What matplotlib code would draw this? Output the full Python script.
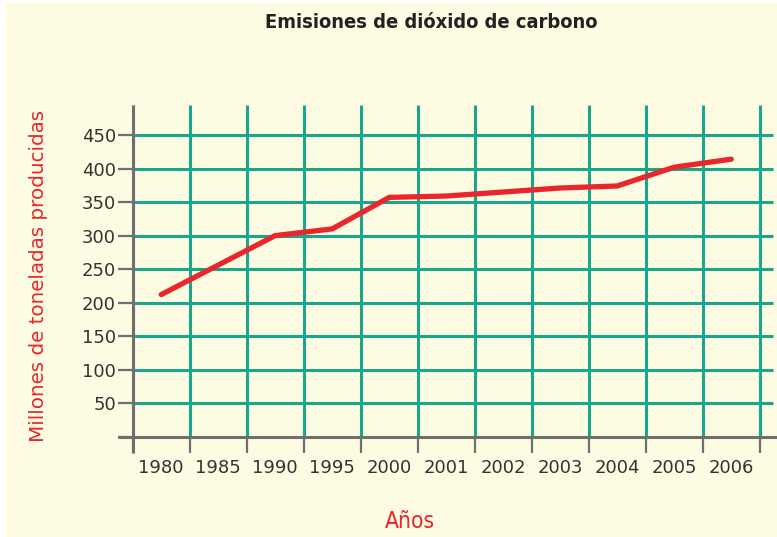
import matplotlib
matplotlib.use("Agg")
import matplotlib.pyplot as plt
import numpy as np
from matplotlib.patches import Rectangle
from matplotlib import font_manager as fm

# ---- data ----
years = ["1980", "1985", "1990", "1995", "2000", "2001", "2002", "2003", "2004", "2005", "2006"]
emissions = [212, 256, 300, 310, 357, 359, 365, 371, 374, 402, 414]
y_ticks = [0, 50, 100, 150, 200, 250, 300, 350, 400, 450]
y_tick_labels = ["", "50", "100", "150", "200", "250", "300", "350", "400", "450"]

title = "Emisiones de dióxido de carbono"
xlabel = "Años"
ylabel = "Millones de toneladas producidas"

# ---- style ----
W, H = 777, 537
BG = "#FDFBE1"
TEAL = "#1AA68E"
GRAY = "#6F6F6F"
RED = "#E8262B"
TXT = "#333333"


def _num(v, table, default):
    if isinstance(v, (int, float)):
        return v
    return table.get(v, default)


def find_condensed(bold):
    best = None
    for f in fm.fontManager.ttflist:
        st = _num(f.stretch, fm.stretch_dict, 500)
        if st >= 500 or "Mono" in f.name or "Serif" in f.name or "CJK" in f.name:
            continue
        low = f.fname.lower()
        if "italic" in low or "oblique" in low or str(f.style) != "normal":
            continue
        w = _num(f.weight, fm.weight_dict, 400)
        target_w = 700 if bold else 400
        score = abs(w - target_w) + abs(st - 300) * 0.5
        if best is None or score < best[0]:
            best = (score, f.fname)
    if best is None:
        return None
    return fm.FontProperties(fname=best[1])


fig = plt.figure(figsize=(W / 100, H / 100), dpi=100)
fig.patch.set_facecolor("white")
fig.patches.append(Rectangle((6 / W, 0), 1, 1 - 3 / H, transform=fig.transFigure,
                             facecolor=BG, edgecolor="none", zorder=-10))

left_px, right_px, top_px, bottom_px = 132.7, 777, 105, 436.7
cell = 57.0
ax = fig.add_axes([left_px / W, 1 - bottom_px / H, (right_px - left_px) / W, (bottom_px - top_px) / H])
ax.set_facecolor("none")

n = len(years)
x = np.arange(n)
xmax = -0.5 + (right_px - left_px) / cell
ymax = 494.8
ax.set_xlim(-0.5, xmax)
ax.set_ylim(0, ymax)

for s in ax.spines.values():
    s.set_visible(False)

# grid
bounds = np.arange(n + 1) - 0.5
ax.vlines(bounds, 0, ymax, color=TEAL, lw=2.2, zorder=1)
ax.hlines(y_ticks[1:], -0.5, xmax - 0.07, color=TEAL, lw=2.2, zorder=1)

# axes lines
ybelow = 16.3 / (bottom_px - top_px) * ymax
ax.plot([-0.5, -0.5], [-ybelow, ymax], color=GRAY, lw=2.2, clip_on=False, zorder=3,
        solid_capstyle="butt")
ax.plot([-0.5 - 14.7 / cell, xmax], [0, 0], color=GRAY, lw=2.2, clip_on=False, zorder=3,
        solid_capstyle="butt")

# ticks
ax.set_yticks(y_ticks)
ax.set_yticklabels(y_tick_labels)
ax.tick_params(axis="y", length=10.6, width=1.6, color=GRAY, pad=1.5,
               labelsize=13, labelcolor=TXT)
ax.set_xticks(x)
ax.set_xticklabels(years)
ax.set_xticks(bounds, minor=True)
ax.tick_params(axis="x", which="major", length=0, pad=16, labelsize=13, labelcolor=TXT)
ax.tick_params(axis="x", which="minor", length=11.7, width=1.6, color=GRAY, direction="out")

# data line
ax.plot(x, emissions, color=RED, lw=3.8, solid_capstyle="round", solid_joinstyle="round",
        zorder=4)

# texts
fp_title = find_condensed(True)
fp_x = find_condensed(False)
if fp_title is None:
    fp_title = fm.FontProperties(family="Liberation Sans", weight="bold")
if fp_x is None:
    fp_x = fm.FontProperties(family="Liberation Sans")

t_title = fig.text(431 / W, 1 - 23 / H, title, ha="center", va="center",
                   fontproperties=fp_title, color="#222222")
t_x = fig.text(410 / W, 1 - 522 / H, xlabel, ha="center", va="center",
               fontproperties=fp_x, color=RED)
t_title.set_fontsize(17)
t_x.set_fontsize(17)
renderer = fig.canvas.get_renderer()
for t, target in ((t_title, 334.0), (t_x, 50.0)):
    wpx = t.get_window_extent(renderer).width
    t.set_fontsize(t.get_fontsize() * target / wpx)

fig.text(39 / W, 1 - 276 / H, ylabel, ha="center", va="center", fontsize=14.3, rotation=90,
         family=["DejaVu Sans"], color=RED)

fig.savefig("out.png", dpi=100, facecolor=fig.get_facecolor())
